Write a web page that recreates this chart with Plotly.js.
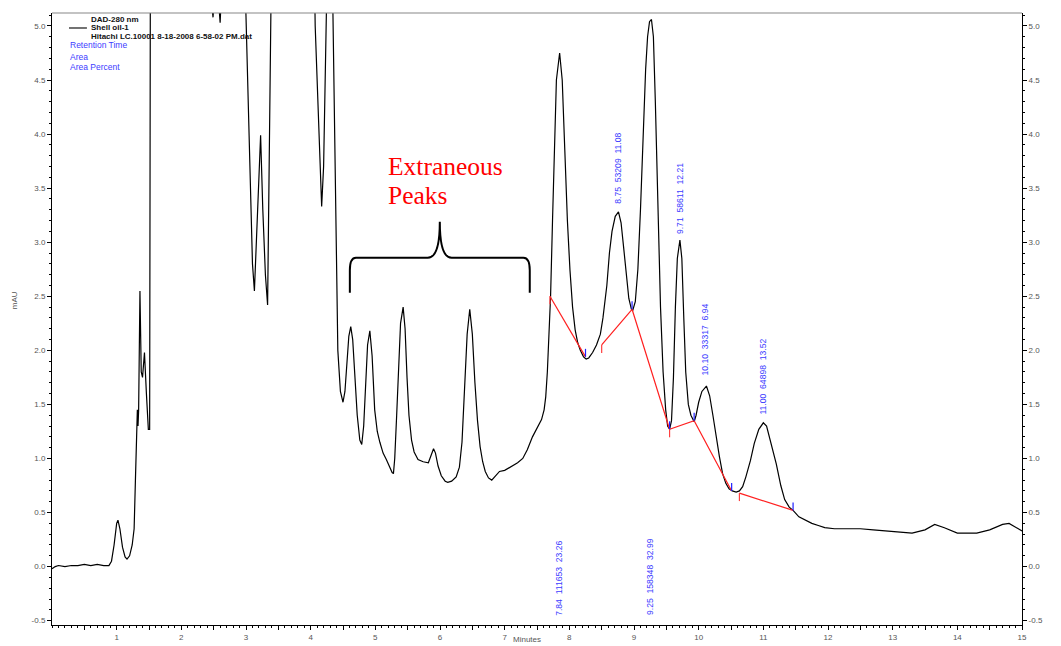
<!DOCTYPE html>
<html>
<head>
<meta charset="utf-8">
<script src="https://cdn.plot.ly/plotly-3.0.1.min.js"></script>
<style>html,body{margin:0;padding:0;background:#fff}#chart{width:1061px;height:646px}</style>
</head>
<body>
<div id="chart"></div>
<script>
// Chromatogram (DAD-280 nm, Shell oil-1): time in minutes, absorbance in mAU
var timeMin = [
 0.00,0.05,0.10,0.20,0.30,0.40,0.50,0.60,0.70,0.80,0.88,0.92,0.96,1.00,1.02,1.05,1.09,1.13,1.16,1.20,1.24,1.27,1.29,1.31,1.32,1.33,1.34,1.36,1.38,1.40,1.43,1.46,1.49,1.51,1.53,
 1.80,2.10,2.40,2.45,2.47,2.49,2.51,2.55,2.58,2.60,2.62,2.70,2.85,2.96,3.06,3.10,3.13,3.17,3.20,3.226,3.26,3.30,3.334,3.36,3.39,3.42,
 3.70,4.02,4.07,4.11,4.14,4.17,4.20,4.23,4.27,4.30,4.34,4.38,4.42,4.46,4.50,4.53,4.56,4.59,4.62,4.65,4.68,4.72,4.76,4.79,4.82,4.85,4.88,4.915,4.95,4.99,5.03,5.07,5.12,5.17,5.22,5.26,5.28,
 5.30,5.33,5.36,5.39,5.43,5.46,5.49,5.52,5.56,5.60,5.66,5.74,5.82,5.86,5.90,5.93,5.97,6.02,6.08,6.12,6.18,6.25,6.30,6.34,6.38,6.42,6.46,6.50,6.54,6.58,6.62,6.66,6.70,6.75,6.80,6.86,6.92,7.00,7.06,7.125,7.20,7.28,7.35,7.43,7.50,7.57,7.61,7.635,7.66,7.68,7.71,
 7.74,7.77,7.80,7.85,7.89,7.93,7.97,8.01,8.05,8.09,8.13,8.17,8.22,8.26,8.30,8.36,8.42,8.48,8.52,8.58,8.62,8.66,8.71,8.76,8.80,8.84,8.88,8.92,8.96,8.98,9.02,9.06,9.10,9.14,9.18,9.21,9.24,9.27,9.30,9.33,9.37,9.41,9.45,9.49,9.52,9.55,9.58,9.61,9.64,9.67,9.71,9.74,9.77,9.80,9.84,9.88,9.93,9.96,10.00,10.05,10.12,10.17,10.22,10.27,10.32,10.37,10.42,10.47,10.52,10.58,10.63,10.68,10.73,10.80,10.86,10.93,11.00,11.05,11.12,11.20,11.27,11.33,11.40,11.46,11.55,11.65,11.75,11.85,11.95,12.10,12.30,12.50,12.70,12.90,13.10,13.30,13.50,13.65,13.80,14.00,14.30,14.50,14.70,14.80,15.00
];
var absorbance = [
 -0.02,0.00,0.01,0.00,0.01,0.01,0.02,0.01,0.02,0.01,0.01,0.05,0.20,0.40,0.43,0.35,0.18,0.09,0.07,0.10,0.20,0.35,0.80,1.30,1.45,1.30,1.45,2.55,1.80,1.75,1.98,1.60,1.27,1.27,9.00,
 9.00,9.00,9.00,7.00,5.20,5.08,5.25,5.60,5.20,5.03,5.30,7.00,9.00,6.00,3.70,2.80,2.55,3.20,3.70,3.99,3.30,2.70,2.42,3.60,5.40,7.00,
 9.00,7.00,5.00,4.30,3.70,3.33,3.70,4.60,5.60,7.00,5.30,3.60,2.00,1.62,1.52,1.62,1.90,2.13,2.22,2.10,1.80,1.40,1.17,1.13,1.30,1.70,2.05,2.18,1.95,1.45,1.25,1.15,1.05,0.99,0.92,0.87,0.86,
 1.00,1.40,1.90,2.25,2.40,2.20,1.75,1.40,1.17,1.06,0.99,0.97,0.96,1.02,1.09,1.05,0.93,0.84,0.79,0.78,0.79,0.83,0.92,1.15,1.65,2.15,2.38,2.15,1.70,1.35,1.11,0.97,0.88,0.82,0.80,0.84,0.88,0.89,0.91,0.93,0.96,1.00,1.08,1.20,1.28,1.36,1.45,1.57,1.80,2.04,2.50,
 3.20,4.00,4.50,4.75,4.50,3.85,3.20,2.74,2.40,2.19,2.07,2.00,1.94,1.92,1.93,1.98,2.05,2.15,2.30,2.60,2.90,3.10,3.24,3.28,3.18,2.95,2.68,2.48,2.38,2.37,2.45,2.75,3.30,4.00,4.60,4.90,5.04,5.06,4.90,4.30,3.30,2.40,1.80,1.45,1.30,1.27,1.35,1.75,2.40,2.85,3.02,2.85,2.30,1.80,1.50,1.40,1.34,1.40,1.52,1.62,1.67,1.58,1.40,1.20,1.02,0.86,0.77,0.72,0.70,0.69,0.70,0.74,0.83,0.98,1.14,1.27,1.33,1.30,1.14,0.95,0.75,0.62,0.55,0.52,0.46,0.43,0.40,0.38,0.36,0.35,0.35,0.35,0.34,0.33,0.32,0.31,0.34,0.39,0.36,0.31,0.31,0.34,0.39,0.40,0.33
];

// Integration baselines (red), with breaks between groups
var baselineT = [7.70,8.25,null,8.50,8.97,9.55,9.93,10.51,null,10.63,11.46];
var baselineV = [2.50,1.94,null,2.05,2.38,1.27,1.35,0.70,null,0.68,0.52];
// Peak end markers (blue) and peak start markers (red)
var peakEndT = [8.25,8.97,9.55,9.93,10.51,11.46];
var peakEndV = [1.94,2.38,1.27,1.35,0.70,0.52];
var peakStartT = [7.70,8.50,9.55,10.63];
var peakStartV = [2.50,2.05,1.27,0.68];

// Peak labels: retention time, area, area percent
var peakRT = [7.84,8.75,9.25,9.71,10.10,11.00];
var peakArea = ['111653','53209','158348','58611','33317','64898'];
var peakPct = ['23.26','11.08','32.99','12.21','6.94','13.52'];
var peakRTText = ['7.84','8.75','9.25','9.71','10.10','11.00'];
var labelBaseV = [-0.46,3.35,-0.46,3.07,1.76,1.40];

var xTickVals = [0.5,1,1.5,2,2.5,3,3.5,4,4.5,5,5.5,6,6.5,7,7.5,8,8.5,9,9.5,10,10.5,11,11.5,12,12.5,13,13.5,14,14.5,15];
var xTickText = ['','1','','2','','3','','4','','5','','6','','7','','8','','9','','10','','11','','12','','13','','14','','15'];
var yTickVals = [-0.5,0,0.5,1,1.5,2,2.5,3,3.5,4,4.5,5];
var yTickText = ['-0.5','0.0','0.5','1.0','1.5','2.0','2.5','3.0','3.5','4.0','4.5','5.0'];

var legendLines = ['DAD-280 nm','Shell oil-1','Hitachi LC.10001 8-18-2008 6-58-02 PM.dat'];
var reportLines = ['Retention Time','Area','Area Percent'];
var noteLines = ['Extraneous','Peaks'];

var FONT = 'Liberation Sans, Arial, sans-serif';
var BLUE = '#3c3cff';
var TICKFONT = {family: FONT, size: 8, color: '#555'};

var traces = [
  {x: timeMin, y: absorbance, type: 'scatter', mode: 'lines', line: {color: '#000', width: 1.2}, showlegend: false, hoverinfo: 'x+y'},
  {x: baselineT, y: baselineV, type: 'scatter', mode: 'lines', line: {color: '#ff2020', width: 1.2}, connectgaps: false, showlegend: false, hoverinfo: 'skip'},
  {x: [null], y: [null], yaxis: 'y2', type: 'scatter', mode: 'lines', showlegend: false, hoverinfo: 'skip'}
];

var yRange = [-0.54, 5.12];
var minorTicks = {tickmode: 'linear', tick0: 0, dtick: 0.1, ticks: 'outside', ticklen: 2, tickcolor: '#000'};
var axisCommon = {
  showgrid: false, zeroline: false, showline: true, linecolor: '#000', linewidth: 1,
  ticks: 'outside', ticklen: 4, tickcolor: '#000', tickwidth: 1, tickfont: TICKFONT, minor: minorTicks
};

var layout = {
  width: 1061, height: 646,
  margin: {l: 52, r: 39, t: 13, b: 21, pad: 0},
  paper_bgcolor: '#fff', plot_bgcolor: '#fff',
  showlegend: false,
  xaxis: Object.assign({}, axisCommon, {range: [0, 15], tickmode: 'array', tickvals: xTickVals, ticktext: xTickText}),
  yaxis: Object.assign({}, axisCommon, {range: yRange, tickmode: 'array', tickvals: yTickVals, ticktext: yTickText}),
  yaxis2: Object.assign({}, axisCommon, {range: yRange, overlaying: 'y', side: 'right', tickmode: 'array', tickvals: yTickVals, ticktext: yTickText}),
  shapes: [],
  annotations: []
};

// top frame line (gray)
layout.shapes.push({type: 'line', xref: 'paper', yref: 'paper', x0: 0, x1: 1, y0: 1, y1: 1, line: {color: '#888', width: 1.2}});
// legend line sample
layout.shapes.push({type: 'line', xref: 'paper', yref: 'paper', x0: 0.0175, x1: 0.036, y0: 0.9755, y1: 0.9755, line: {color: '#444', width: 1.5}});
// brace over extraneous peaks
layout.shapes.push({type: 'path', xref: 'x', yref: 'y',
  path: 'M 4.606,2.532 L 4.606,2.74 Q 4.606,2.856 4.70,2.856 L 5.81,2.856 Q 5.997,2.856 5.997,3.19 Q 5.997,2.856 6.18,2.856 L 7.29,2.856 Q 7.388,2.856 7.388,2.74 L 7.388,2.532',
  line: {color: '#000', width: 2}});

peakEndT.forEach(function (t, i) {
  layout.shapes.push({type: 'line', xref: 'x', yref: 'y', ysizemode: 'pixel', yanchor: peakEndV[i], x0: t, x1: t, y0: 0, y1: 8, line: {color: '#2020ff', width: 1.2}});
});
peakStartT.forEach(function (t, i) {
  layout.shapes.push({type: 'line', xref: 'x', yref: 'y', ysizemode: 'pixel', yanchor: peakStartV[i], x0: t, x1: t, y0: 0, y1: -8, line: {color: '#ff4040', width: 1.2}});
});

// peak labels
peakRT.forEach(function (t, i) {
  layout.annotations.push({x: t, y: labelBaseV[i], xref: 'x', yref: 'y', xanchor: 'center', yanchor: 'bottom',
    text: peakRTText[i] + '  ' + peakArea[i] + '  ' + peakPct[i], textangle: -90, showarrow: false,
    font: {family: FONT, size: 8.6, color: BLUE}, borderpad: 0});
});

// header text
var legendY = [0.990, 0.9755, 0.9608];
legendLines.forEach(function (s, i) {
  layout.annotations.push({x: 0.0392, y: legendY[i], xref: 'paper', yref: 'paper', xanchor: 'left', yanchor: 'middle',
    text: '<b>' + s + '</b>', showarrow: false, font: {family: FONT, size: 8, color: '#111'}, borderpad: 0});
});
var reportY = [0.9469, 0.9281, 0.9118];
reportLines.forEach(function (s, i) {
  layout.annotations.push({x: 0.0175, y: reportY[i], xref: 'paper', yref: 'paper', xanchor: 'left', yanchor: 'middle',
    text: s, showarrow: false, font: {family: FONT, size: 8.5, color: BLUE}, borderpad: 0});
});

// Extraneous Peaks
var noteY = [0.7495, 0.7020];
noteLines.forEach(function (s, i) {
  layout.annotations.push({x: 0.3455, y: noteY[i], xref: 'paper', yref: 'paper', xanchor: 'left', yanchor: 'middle', align: 'left',
    text: s, showarrow: false, font: {family: 'Liberation Serif, Times New Roman, serif', size: 25.5, color: '#ff0000'}, borderpad: 0});
});

// axis titles
layout.annotations.push({x: -0.039, y: 0.531, xref: 'paper', yref: 'paper', xanchor: 'center', yanchor: 'middle', textangle: -90,
  text: 'mAU', showarrow: false, font: {family: FONT, size: 8, color: '#555'}});
layout.annotations.push({x: 0.49, y: -0.0325, xref: 'paper', yref: 'paper', xanchor: 'center', yanchor: 'bottom',
  text: 'Minutes', showarrow: false, font: {family: FONT, size: 8, color: '#555'}, borderpad: 0});

Plotly.newPlot('chart', traces, layout, {displayModeBar: false, staticPlot: true});
</script>
</body>
</html>
